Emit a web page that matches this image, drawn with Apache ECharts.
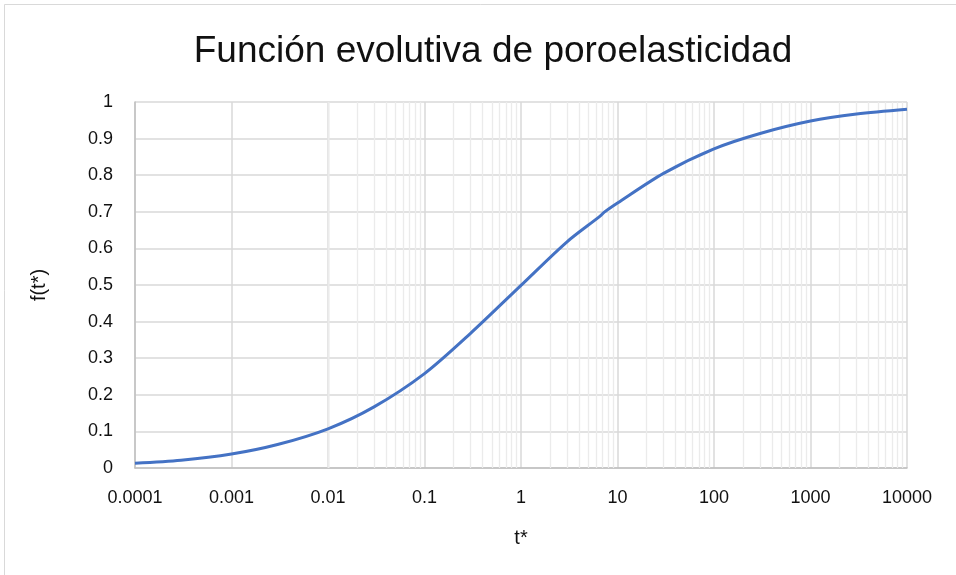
<!DOCTYPE html>
<html>
<head>
<meta charset="utf-8">
<script src="https://cdn.jsdelivr.net/npm/echarts@6/dist/echarts.min.js"></script>
<style>
html,body{margin:0;padding:0;background:#fff;}
#chart{width:956px;height:575px;}
</style>
</head>
<body>
<div id="chart"></div>
<script>
// t* values (log scale) and f(t*)
const tValues = [0.0001, 0.0003, 0.001, 0.003, 0.01, 0.03, 0.1, 0.3, 1, 3, 6.6, 7.3, 10, 30, 100, 300, 1000, 3000, 10000];
const fValues = [0.013, 0.021, 0.038, 0.064, 0.107, 0.167, 0.258, 0.368, 0.499, 0.618, 0.688, 0.699, 0.724, 0.805, 0.872, 0.914, 0.948, 0.967, 0.980];
const xTickLabels = ['0.0001', '0.001', '0.01', '0.1', '1', '10', '100', '1000', '10000'];
const yTickLabels = ['0', '0.1', '0.2', '0.3', '0.4', '0.5', '0.6', '0.7', '0.8', '0.9', '1'];

const seriesData = tValues.map((t, i) => [t, fValues[i]]);

// minor log gridlines at 2..9 x 10^d
const minorLines = [];
for (let d = -4; d <= 3; d++) {
  for (let k = 2; k <= 9; k++) {
    minorLines.push({ xAxis: k * Math.pow(10, d) });
  }
}

const chart = echarts.init(document.getElementById('chart'), null, { renderer: 'canvas' });
const fontFamily = 'Liberation Sans, Arial, sans-serif';
chart.setOption({
  animation: false,
  backgroundColor: '#fff',
  textStyle: { fontFamily: fontFamily },
  graphic: [{
    type: 'rect',
    shape: { x: 4.5, y: 4.5, width: 1000, height: 1000 },
    style: { fill: 'none', stroke: '#d9d9d9', lineWidth: 1 },
    silent: true,
    z: -10
  }],
  title: {
    text: 'Función evolutiva de poroelasticidad',
    left: 488,
    textAlign: 'center',
    top: 28,
    textStyle: { fontFamily: fontFamily, fontSize: 37, fontWeight: 'normal', color: '#111' }
  },
  grid: { left: 135, right: 49, top: 102, bottom: 107, containLabel: false },
  xAxis: {
    type: 'log',
    logBase: 10,
    min: 0.0001,
    max: 10000,
    name: 't*',
    nameLocation: 'middle',
    nameGap: 60,
    nameTextStyle: { fontFamily: fontFamily, fontSize: 20, color: '#111' },
    axisLine: { show: true, lineStyle: { color: '#bfbfbf', width: 1.5 } },
    axisTick: { show: false },
    axisLabel: {
      fontFamily: fontFamily, fontSize: 18, color: '#111', margin: 21,
      formatter: function (v) { return xTickLabels[Math.round(Math.log10(v)) + 4]; }
    },
    splitLine: { show: true, lineStyle: { color: '#d9d9d9', width: 1.5 } }
  },
  yAxis: {
    type: 'value',
    min: 0,
    max: 1,
    interval: 0.1,
    name: 'f(t*)',
    nameLocation: 'middle',
    nameGap: 86,
    nameTextStyle: { fontFamily: fontFamily, fontSize: 20, color: '#111' },
    axisLine: { show: true, lineStyle: { color: '#bfbfbf', width: 1.5 } },
    axisTick: { show: false },
    axisLabel: {
      fontFamily: fontFamily, fontSize: 18, color: '#111', margin: 22,
      formatter: function (v) { return yTickLabels[Math.round(v * 10)]; }
    },
    splitLine: { show: true, lineStyle: { color: '#d9d9d9', width: 1.5 } }
  },
  series: [
    {
      type: 'line',
      data: [],
      silent: true,
      z: 1,
      markLine: {
        silent: true,
        symbol: 'none',
        label: { show: false },
        lineStyle: { color: '#ebebeb', type: 'solid', width: 1.3 },
        emphasis: { disabled: true },
        data: minorLines,
        animation: false
      }
    },
    {
      type: 'line',
      data: seriesData,
      smooth: 0.3,
      showSymbol: false,
      symbol: 'none',
      z: 5,
      lineStyle: { color: '#4472C4', width: 3 }
    }
  ]
});
</script>
</body>
</html>
